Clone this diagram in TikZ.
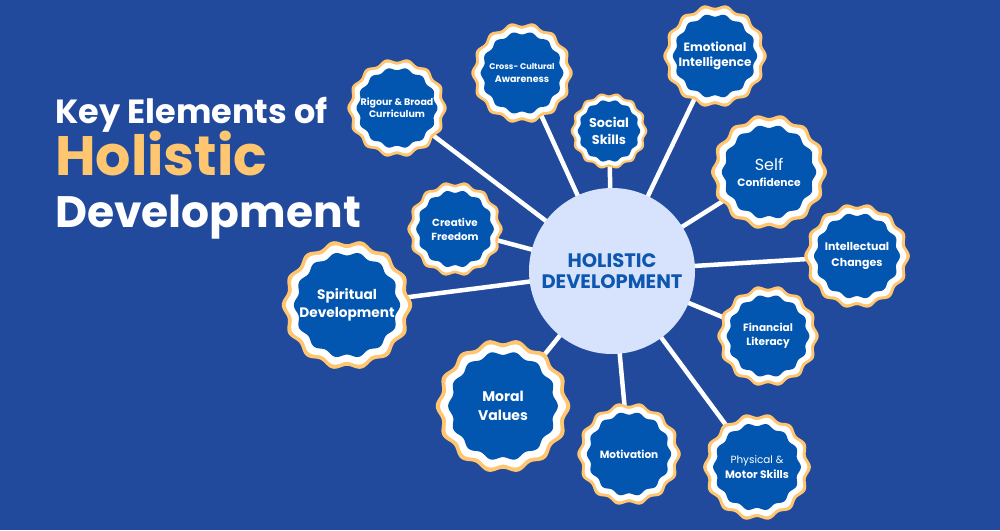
\documentclass[tikz,border=0pt]{standalone}
\usepackage{fontspec}
\setmainfont{Poppins}
\definecolor{bgblue}{HTML}{214A9C}
\definecolor{badgeblue}{HTML}{0256B0}
\definecolor{bgold}{HTML}{FFC56F}
\definecolor{hubfill}{HTML}{D7E3FC}
\definecolor{hubtext}{HTML}{0D57B1}
\definecolor{titleyellow}{HTML}{FFC670}
\pgfdeclarelayer{back}
\pgfdeclarelayer{lines}
\pgfsetlayers{back,lines,main}
\newcommand\fs[2]{\fontsize{#1}{#2}\selectfont}
\newcommand\waveshape[2]{% radius, colour
  \fill[#2] plot[domain=0:360,samples=253,variable=\t]
    ({(#1)*(1+0.035*cos(14*\t))*cos(\t)},{(#1)*(1+0.035*cos(14*\t))*sin(\t)}) -- cycle;}
\newcommand\mybadge[6]{% name, x, y, R, font, text
  \begin{scope}[shift={(#2,#3)}]
    \waveshape{#4}{bgold}
    \waveshape{0.935*#4}{white}
    \waveshape{0.815*#4}{badgeblue}
  \end{scope}
  \node[lbl,font=\bfseries#5] (#1) at (#2,#3) {#6};}
\tikzset{
  lbl/.style={text=white,align=center,inner sep=0pt},
  conn/.style={white,line width=4.5pt},
  titletext/.style={anchor=base west,inner sep=0pt,font=\bfseries}
}
\begin{document}
\begin{tikzpicture}[x=1pt,y=-1pt]
\begin{pgfonlayer}{back}
\fill[bgblue] (0,0) rectangle (1000,530);
\end{pgfonlayer}
\useasboundingbox (0,0) rectangle (1000,530);

% title
\node[titletext,text=white] (t1) at (55,123) {\fs{33.5}{40}Key Elements of};
\node[titletext,text=titleyellow] (t2) at (55,175) {\fs{55.5}{66}Holistic};
\node[titletext,text=white] (t3) at (55,227) {\fs{44}{52}Development};

% hub
\node[circle,fill=hubfill,minimum size=166pt,inner sep=0pt,text=hubtext,align=center,
  font=\bfseries\fs{19.5}{21}] (hub) at (612,271) {HOLISTIC\\DEVELOPMENT};

% badges
\mybadge{rig}{397}{108}{48}{\fs{9.5}{12}}{Rigour \& Broad\\Curriculum}
\mybadge{cross}{522}{73}{49}{\fs{9}{12.5}}{{\fs{8.2}{12.5}Cross- Cultural}\\{\fs{9.5}{12.5}Awareness}}
\mybadge{social}{609}{131}{37}{\fs{12.8}{17}}{Social\\Skills}
\mybadge{emo}{715}{56}{50}{\fs{12}{15.5}}{Emotional\\Intelligence}
\mybadge{self}{769}{172}{56}{\fs{10.7}{16}}{{\mdseries\fs{16}{17}Self}\\{\fs{10.7}{14}Confidence}}
\mybadge{intel}{857}{256}{51}{\fs{11}{15.5}}{Intellectual\\Changes}
\mybadge{fin}{768}{336}{49}{\fs{10.5}{14}}{Financial\\Literacy}
\mybadge{phys}{757}{467}{52}{\fs{10.8}{14.5}}{{\mdseries\fs{10.4}{14.5}Physical \&}\\Motor Skills}
\mybadge{motiv}{629}{454}{50}{\fs{10.5}{14}}{Motivation}
\mybadge{moral}{503}{406}{65}{\fs{14}{19}}{Moral\\Values}
\mybadge{spir}{347}{305}{63}{\fs{13.7}{18}}{Spiritual\\Development}
\mybadge{creat}{455}{229}{46}{\fs{10.3}{14}}{Creative\\Freedom}

% connectors
\begin{pgfonlayer}{lines}
\foreach \n in {rig,cross,social,emo,self,intel,fin,phys,motiv,moral,spir,creat}
  \draw[conn] (hub.center) -- (\n.center);
\end{pgfonlayer}
\end{tikzpicture}
\end{document}
